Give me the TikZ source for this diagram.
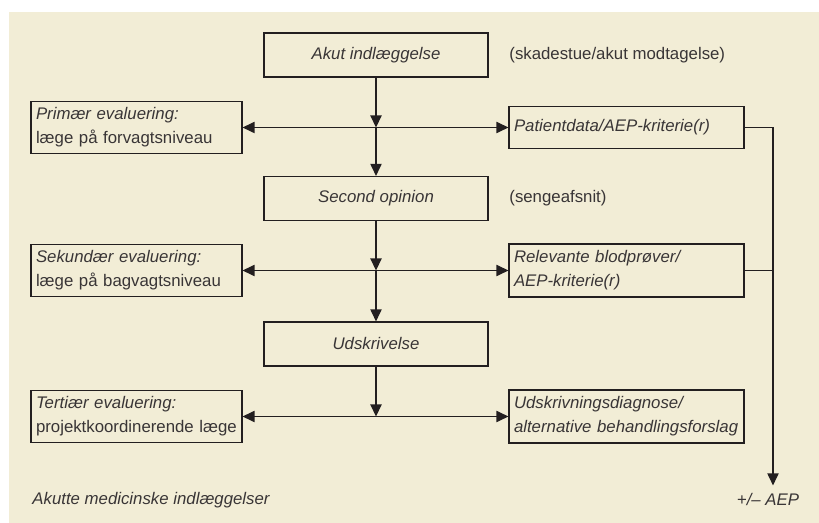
\documentclass[tikz,border=0pt]{standalone}
\usepackage{fontspec}
\setmainfont{Liberation Sans}
\usepackage{xcolor}
\usetikzlibrary{arrows.meta}
\definecolor{bgbeige}{RGB}{242,237,214}
\definecolor{inkgray}{RGB}{35,31,32}

\begin{document}
\begin{tikzpicture}[x=0.5pt,y=-0.5pt,
    every node/.style={font=\fontsize{8.4}{12}\selectfont, text=inkgray!90},
    midbox/.style={draw=inkgray, line width=0.55pt, inner sep=0pt, minimum width=112pt, minimum height=22pt},
    sidebox/.style={draw=inkgray, line width=0.55pt, inner xsep=2.5pt, inner ysep=0pt, align=left},
    leftbox/.style={sidebox, text width=100.5pt, minimum height=26pt},
    rightbox/.style={sidebox, text width=112.5pt, minimum height=26.5pt},
    conn/.style={draw=inkgray, line width=0.6pt},
    arr/.style={conn, -{Triangle[length=6pt,width=5.6pt]}},
    dblarr/.style={conn, {Triangle[length=6pt,width=5.6pt]}-{Triangle[length=6pt,width=5.6pt]}}]
      \useasboundingbox (0,0) rectangle (819,523);
      \fill[bgbeige] (9,12) rectangle (819,523);
      % middle column
      \node[midbox] (akut) at (376,55) {\textit{Akut indlæggelse}};
      \node[midbox] (secop) at (376,198.5) {\textit{Second opinion}};
      \node[midbox] (udskr) at (376,344) {\textit{Udskrivelse}};
      % left column
      \node[leftbox] (prim) at (136.5,127.5) {\textit{Primær evaluering:}\\læge på forvagtsniveau};
      \node[leftbox] (sek) at (136.5,270.5) {\textit{Sekundær evaluering:}\\læge på bagvagtsniveau};
      \node[leftbox] (ter) at (136.5,416.5) {\textit{Tertiær evaluering:}\\projektkoordinerende læge};
      % right column
      \node[sidebox, text width=112.5pt, minimum height=21pt] (pat) at (626.5,127.5) {\textit{Patientdata/AEP-kriterie(r)}};
      \node[rightbox] (blod) at (626.5,270.5) {\textit{Relevante blodprøver/}\\\textit{AEP-kriterie(r)}};
      \node[rightbox] (diag) at (626.5,416.5) {\textit{Udskrivningsdiagnose/}\\\textit{alternative behandlingsforslag}};
      % side notes
      \node[anchor=west, inner sep=0pt] (skade) at (509,55) {(skadestue/akut modtagelse)};
      \node[anchor=west, inner sep=0pt] (senge) at (509,198.5) {(sengeafsnit)};
      \node[anchor=west, inner sep=0pt] (akutte) at (32,500) {\textit{Akutte medicinske indlæggelser}};
      \node[inner sep=0pt] (aep) at (768,499) {\textit{+/– AEP}};
      % junctions
      \coordinate (j1) at (376,127.5);
      \coordinate (j2) at (376,270.5);
      \coordinate (j3) at (376,416.5);
      \coordinate (rail) at (773,0);
      \draw[arr] (akut) -- (j1);
      \draw[arr] (j1) -- (secop);
      \draw[arr] (secop) -- (j2);
      \draw[arr] (j2) -- (udskr);
      \draw[arr] (udskr) -- (j3);
      \draw[dblarr] (prim) -- (pat);
      \draw[dblarr] (sek) -- (blod);
      \draw[dblarr] (ter) -- (diag);
      \draw[arr, shorten >=3.5pt] (pat.east) -| (rail |- aep.north);
      \draw[conn] (blod.east) -- (blod.east -| rail);
    \end{tikzpicture}
\end{document}
